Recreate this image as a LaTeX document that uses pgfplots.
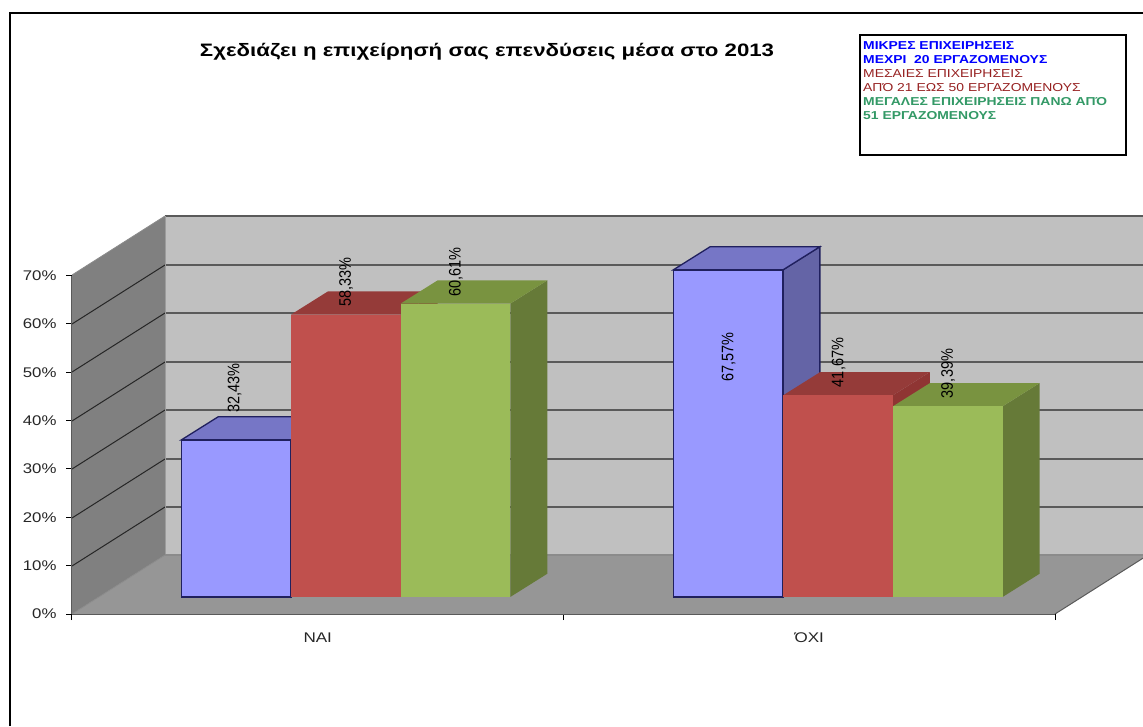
\documentclass[border=0pt]{standalone}
\usepackage{fontspec}
\setmainfont{Liberation Sans}
\usepackage{graphicx}
\usepackage{pgfplots}
\pgfplotsset{compat=1.18}

\definecolor{wallback}{HTML}{C0C0C0}
\definecolor{wallleft}{HTML}{808080}
\definecolor{wallfloor}{HTML}{969696}
\definecolor{gridc}{HTML}{5A5A5A}
\definecolor{blueF}{HTML}{9999FF}
\definecolor{blueT}{HTML}{7676C6}
\definecolor{blueS}{HTML}{6464A6}
\definecolor{blueE}{HTML}{20205E}
\definecolor{redF}{HTML}{C0504D}
\definecolor{redT}{HTML}{953B39}
\definecolor{redS}{HTML}{8F3533}
\definecolor{greenF}{HTML}{9BBB59}
\definecolor{greenT}{HTML}{799340}
\definecolor{greenS}{HTML}{667A38}
\definecolor{legblue}{HTML}{0000FF}
\definecolor{legred}{HTML}{962020}
\definecolor{leggreen}{HTML}{339966}

\newcommand{\fs}[1]{\fontsize{#1}{#1}\selectfont}
% the reference's text is stretched sideways
\newcommand{\wide}[2][1.22]{\scalebox{#1}[1]{#2}}

\begin{document}
\begin{tikzpicture}[x=1pt,y=1pt]
  \useasboundingbox (0,0) rectangle (1143pt,726pt);

  % background: walls, frame and texts, in pixel coordinates of the picture
  \begin{axis}[
    at={(0,0)}, anchor=south west,
    scale only axis, width=1143pt, height=726pt,
    xmin=0, xmax=1143, ymin=0, ymax=726, y dir=reverse,
    hide axis,
  ]
    \addplot[fill=wallback, draw=none] coordinates {(165,216)(1148,216)(1148,555)(165,555)} -- cycle;
    \addplot[fill=wallleft, draw=none] coordinates {(72,614)(72,275)(165,216)(165,555)} -- cycle;
    \addplot[fill=wallfloor, draw=none] coordinates {(72,614)(1055,614)(1148,555)(165,555)} -- cycle;
    % gridlines on the back wall
    \addplot[gridc, line width=1.3pt] coordinates {(165,216)(1148,216)};
    \addplot[gridc, line width=1.3pt] coordinates {(165,265)(1148,265)};
    \addplot[gridc, line width=1.3pt] coordinates {(165,313)(1148,313)};
    \addplot[gridc, line width=1.3pt] coordinates {(165,362)(1148,362)};
    \addplot[gridc, line width=1.3pt] coordinates {(165,410)(1148,410)};
    \addplot[gridc, line width=1.3pt] coordinates {(165,459)(1148,459)};
    \addplot[gridc, line width=1.3pt] coordinates {(165,507)(1148,507)};
    % gridlines on the left wall
    \addplot[black!85, line width=1pt] coordinates {(72,324)(165,265)};
    \addplot[black!85, line width=1pt] coordinates {(72,372)(165,313)};
    \addplot[black!85, line width=1pt] coordinates {(72,421)(165,362)};
    \addplot[black!85, line width=1pt] coordinates {(72,469)(165,410)};
    \addplot[black!85, line width=1pt] coordinates {(72,518)(165,459)};
    \addplot[black!85, line width=1pt] coordinates {(72,566)(165,507)};
    \addplot[gridc!70, line width=.8pt] coordinates {(72,275)(165,216)};
    \addplot[gridc!70, line width=.8pt] coordinates {(72,614)(165,555)};
    \addplot[gridc, line width=1pt] coordinates {(1055,614)(1148,555)};
    \addplot[gridc!60, line width=.8pt] coordinates {(165,216)(165,555)};
    \addplot[gridc!70, line width=1.2pt] coordinates {(165,555)(1148,555)};
    % frame
    \addplot[black, line width=2pt] coordinates {(9.5,726)(9.5,12.5)(1143,12.5)};
    % legend box
    \addplot[black, line width=1.8pt] coordinates {(860,35)(1126,35)(1126,155)(860,155)} -- cycle;

    \node[anchor=base, inner sep=0pt] at (axis cs:487,56) {\wide[1.235]{\fs{18}\bfseries Σχεδιάζει η επιχείρησή σας επενδύσεις μέσα στο 2013}};
    \node[anchor=north west, inner sep=0pt] at (axis cs:863,39) {\wide[1.21]{\fontsize{11.5}{14}\selectfont\begin{tabular}{@{}l@{}}%
      \textcolor{legblue}{\bfseries ΜΙΚΡΕΣ ΕΠΙΧΕΙΡΗΣΕΙΣ}\\
      \textcolor{legblue}{\bfseries ΜΕΧΡΙ\ \ 20 ΕΡΓΑΖΟΜΕΝΟΥΣ}\\
      \textcolor{legred}{ΜΕΣΑΙΕΣ ΕΠΙΧΕΙΡΗΣΕΙΣ}\\
      \textcolor{legred}{ΑΠΌ 21 ΕΩΣ 50 ΕΡΓΑΖΟΜΕΝΟΥΣ}\\
      \textcolor{leggreen}{\bfseries ΜΕΓΑΛΕΣ ΕΠΙΧΕΙΡΗΣΕΙΣ ΠΑΝΩ ΑΠΌ}\\
      \textcolor{leggreen}{\bfseries 51 ΕΡΓΑΖΟΜΕΝΟΥΣ}
      \end{tabular}}};
  \end{axis}

  % the axis lines, ticks and tick labels, in front of the walls
  \begin{axis}[
    at={(72pt,112pt)}, anchor=south west,
    scale only axis, width=983pt, height=338.5pt,
    xmin=0, xmax=2, ymin=0, ymax=70,
    axis x line=bottom, axis y line=left,
    axis line style={-, gridc, line width=1pt},
    xtick={0,1,2}, xticklabels={},
    extra x ticks={0.5,1.5},
    extra x tick labels={\wide{ΝΑΙ},\wide{ΌΧΙ}},
    extra x tick style={major tick length=0pt, tick style={draw=none}},
    ytick={0,10,...,70},
    yticklabel={\wide[1.2]{\pgfmathprintnumber[assume math mode=true]{\tick}\%}},
    tick style={black, line width=1pt},
    major tick length=6pt,
    tick align=outside,
    ticklabel style={font=\fs{14}, text=black!85},
    xticklabel style={yshift=-15pt},
    yticklabel style={xshift=-6pt},
  ]
  \end{axis}

  % the bars: y is the percentage, 4.84 pixels to one percent
  \begin{axis}[
    at={(0,0)}, anchor=south west,
    scale only axis, width=1143pt, height=726pt,
    xmin=0, xmax=1143, ymin=-26.653, ymax=123.347,
    hide axis,
    bar width=109.7,
  ]
    % NAI, small firms
    \addplot[fill=blueS, draw=blueE, line width=1.3pt] coordinates {(290.85,0)(290.85,32.43)(327.85,37.23)(327.85,4.8)} -- cycle;
    \addplot[fill=blueT, draw=blueE, line width=1.3pt] coordinates {(181.15,32.43)(290.85,32.43)(327.85,37.23)(218.15,37.23)} -- cycle;
    \addplot[ybar, bar shift=0pt, fill=blueF, draw=blueE, line width=1.3pt] coordinates {(236,32.43)};
    % NAI, medium firms
    \addplot[fill=redS, draw=none] coordinates {(400.55,0)(400.55,58.33)(437.55,63.13)(437.55,4.8)} -- cycle;
    \addplot[fill=redT, draw=none] coordinates {(290.85,58.33)(400.55,58.33)(437.55,63.13)(327.85,63.13)} -- cycle;
    \addplot[ybar, bar shift=0pt, fill=redF, draw=none] coordinates {(345.7,58.33)};
    % NAI, large firms
    \addplot[fill=greenS, draw=none] coordinates {(510.25,0)(510.25,60.61)(547.25,65.41)(547.25,4.8)} -- cycle;
    \addplot[fill=greenT, draw=none] coordinates {(400.55,60.61)(510.25,60.61)(547.25,65.41)(437.55,65.41)} -- cycle;
    \addplot[ybar, bar shift=0pt, fill=greenF, draw=none] coordinates {(455.4,60.61)};
    % OXI, small firms
    \addplot[fill=blueS, draw=blueE, line width=1.3pt] coordinates {(782.85,0)(782.85,67.57)(819.85,72.37)(819.85,4.8)} -- cycle;
    \addplot[fill=blueT, draw=blueE, line width=1.3pt] coordinates {(673.15,67.57)(782.85,67.57)(819.85,72.37)(710.15,72.37)} -- cycle;
    \addplot[ybar, bar shift=0pt, fill=blueF, draw=blueE, line width=1.3pt] coordinates {(728,67.57)};
    % OXI, medium firms
    \addplot[fill=redS, draw=none] coordinates {(892.85,0)(892.85,41.67)(929.85,46.47)(929.85,4.8)} -- cycle;
    \addplot[fill=redT, draw=none] coordinates {(783.15,41.67)(892.85,41.67)(929.85,46.47)(820.15,46.47)} -- cycle;
    \addplot[ybar, bar shift=0pt, fill=redF, draw=none] coordinates {(838,41.67)};
    % OXI, large firms
    \addplot[fill=greenS, draw=none] coordinates {(1002.55,0)(1002.55,39.39)(1039.55,44.19)(1039.55,4.8)} -- cycle;
    \addplot[fill=greenT, draw=none] coordinates {(892.85,39.39)(1002.55,39.39)(1039.55,44.19)(929.85,44.19)} -- cycle;
    \addplot[ybar, bar shift=0pt, fill=greenF, draw=none] coordinates {(947.7,39.39)};
    % value labels
    \addplot[
      draw=none, mark=none,
      point meta=y,
      visualization depends on={value \thisrow{dy} \as \labeldy},
      visualization depends on={value \thisrow{dx} \as \labeldx},
      nodes near coords={\scalebox{1}[1.15]{\pgfmathprintnumber[fixed, fixed zerofill, precision=2, use comma, assume math mode=true]{\pgfplotspointmeta}\%}},
      every node near coord/.append style={rotate=90, anchor=west, inner sep=0pt, xshift=\labeldy pt, yshift=\labeldx pt, font=\fs{14.5}, text=black},
    ] table[x=x, y=v] {
      x v dy dx
      236 32.43 27 1.5
      345.7 58.33 8 -0.5
      455.4 60.61 7 -0.5
      728 67.57 -112 -0.5
      838 41.67 8 -0.5
      947.7 39.39 8 -0.5
    };
  \end{axis}
\end{tikzpicture}
\end{document}
